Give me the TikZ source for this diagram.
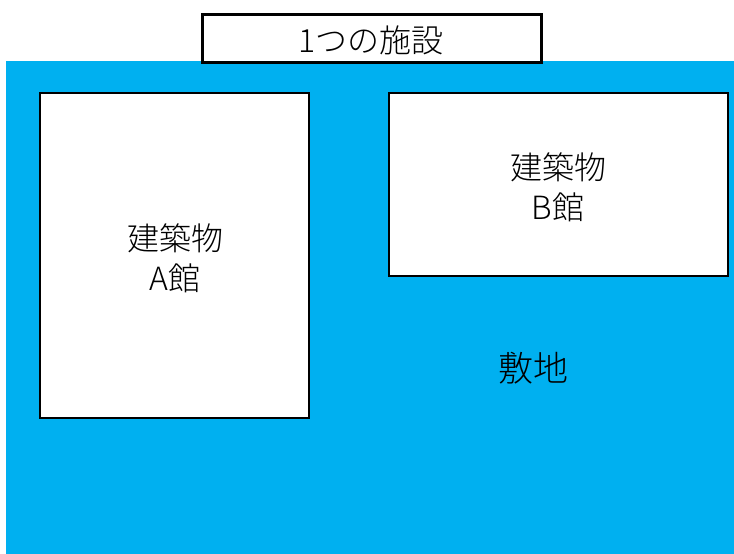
\documentclass[tikz,border=0pt]{standalone}
\usepackage{fontspec}
\setmainfont{Noto Sans CJK JP Light}
\definecolor{siteblue}{HTML}{00B0F0}
\begin{document}
\begin{tikzpicture}[x=1pt,y=-1pt,
  bldg/.style={draw=black,line width=2.5pt,fill=white},
  lbl/.style={font=\fontsize{32}{40}\selectfont,align=center,inner sep=0pt}]
\useasboundingbox (0,0) rectangle (734,554);
\fill[siteblue] (6,61) rectangle (734,554);
\node[bldg,minimum width=339pt,minimum height=48pt,inner sep=0pt,anchor=north west] (title) at (201,13) {};
\node[lbl] (titletext) at (371,40) {1つの施設};
\draw[bldg] (40,93) rectangle (309,418);
\node[lbl] (a) at (175,258) {建築物\\A館};
\draw[bldg] (389,93) rectangle (728,276);
\node[lbl] (b) at (558,187) {建築物\\B館};
\node[lbl,font=\fontsize{35}{40}\selectfont] (site) at (533,368) {敷地};
\end{tikzpicture}
\end{document}
